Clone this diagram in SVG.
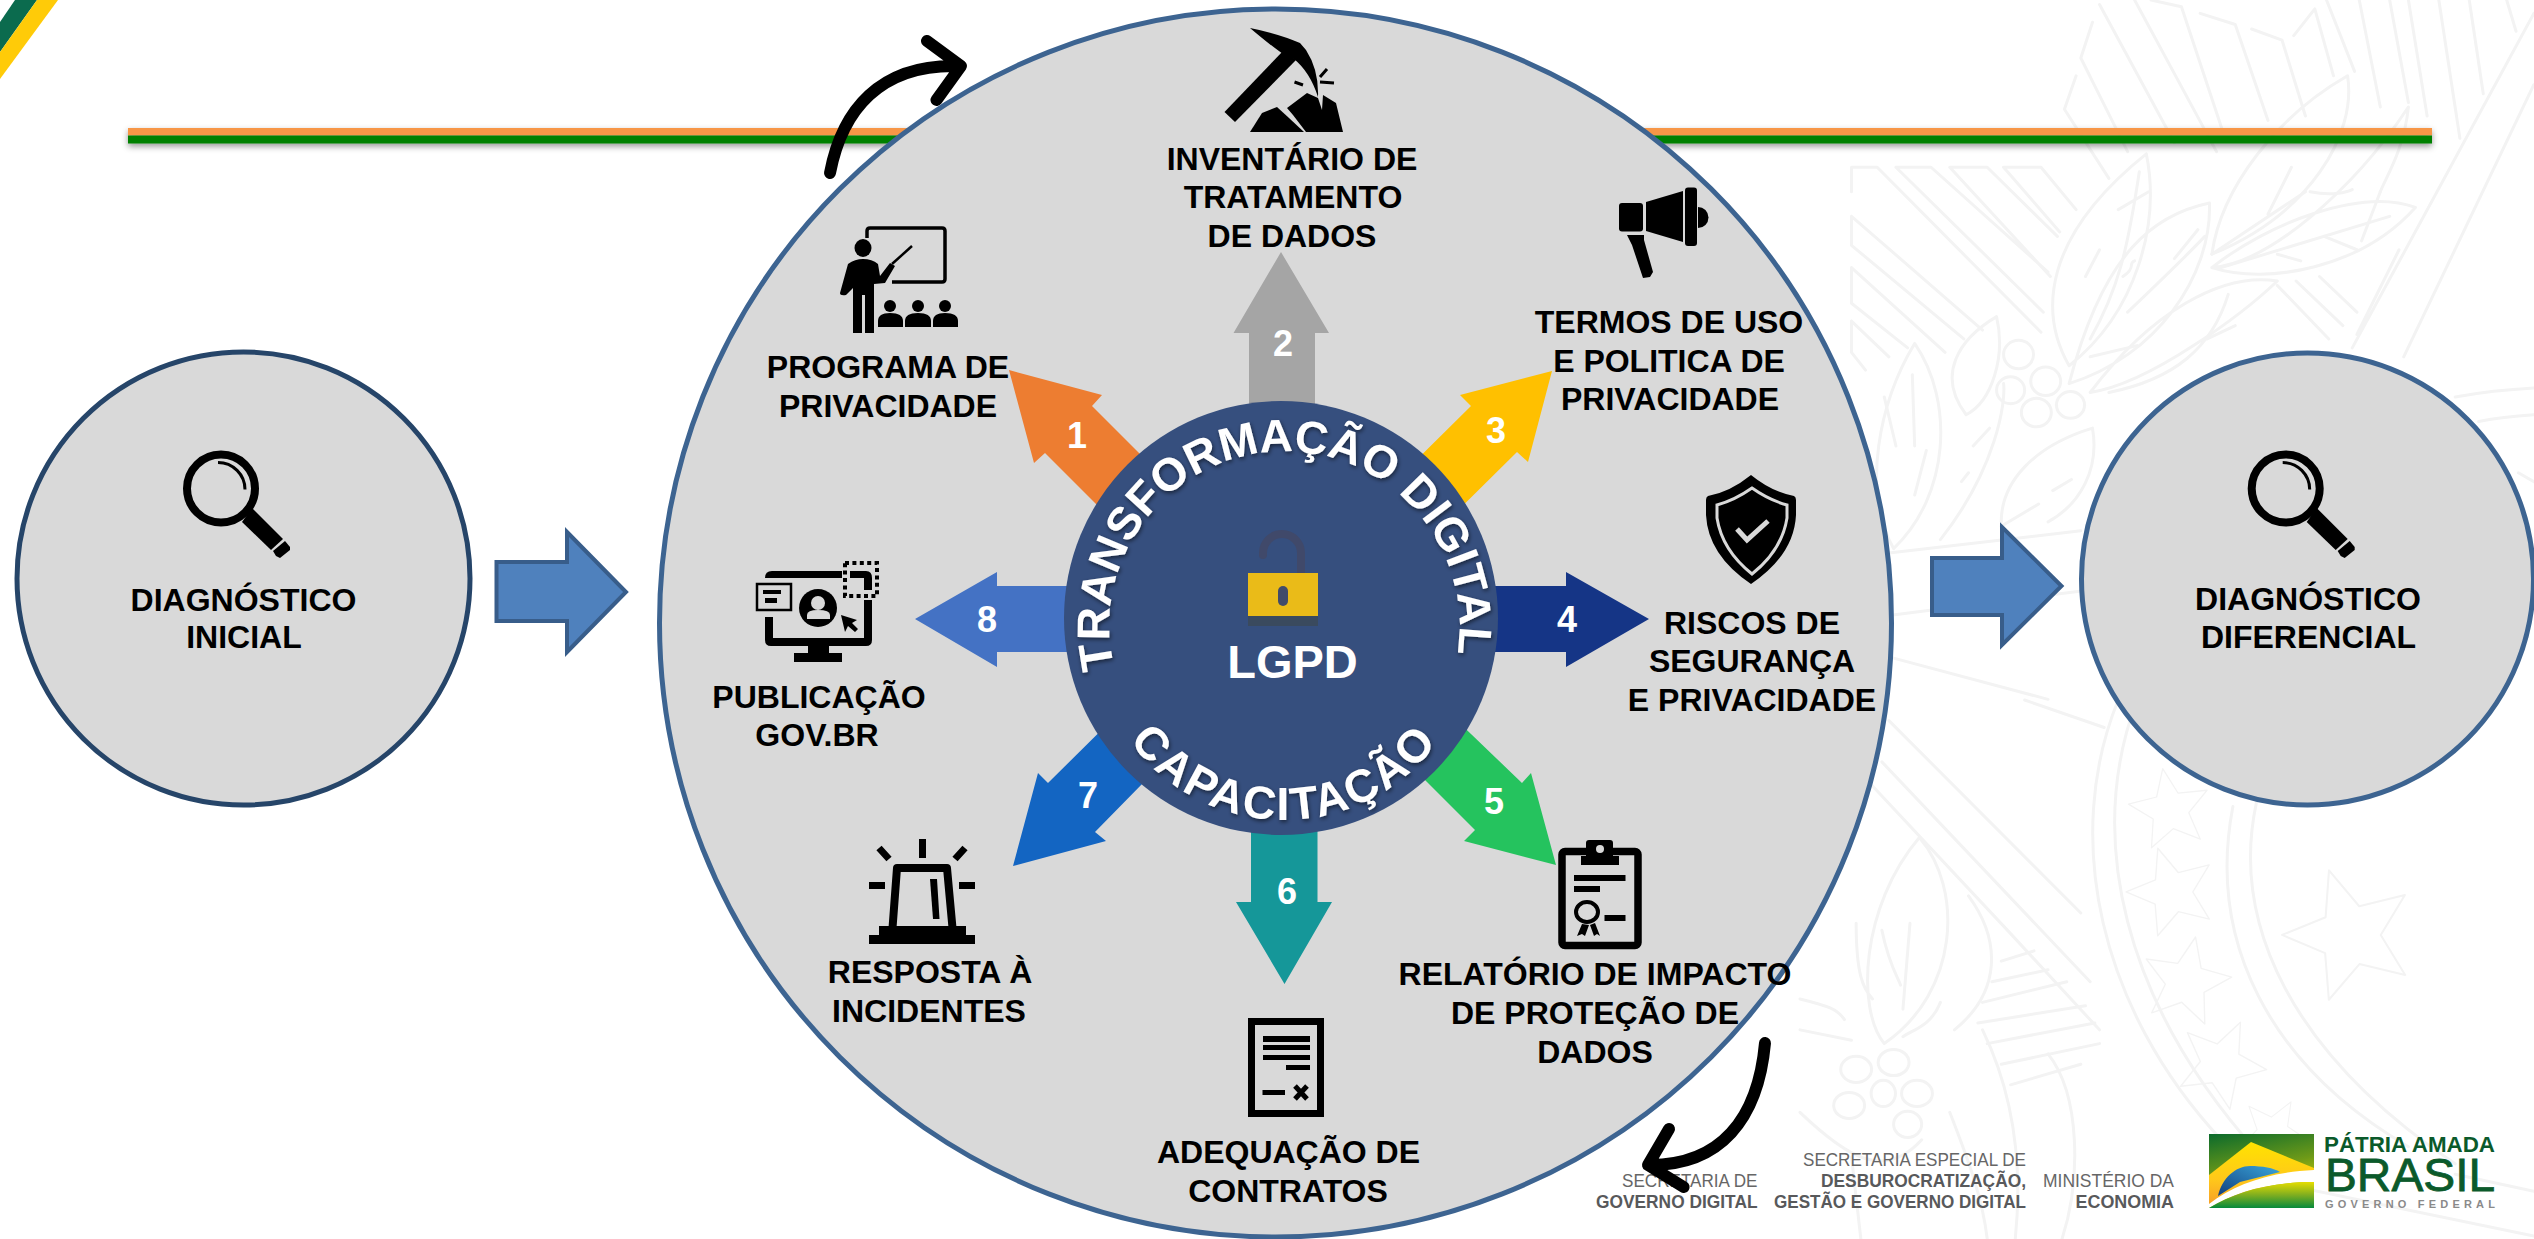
<svg xmlns="http://www.w3.org/2000/svg" width="2534" height="1239" viewBox="0 0 2534 1239">
<style>
text{font-family:"Liberation Sans",Arial,sans-serif}
.l{font-size:32px;font-weight:700;fill:#000;text-anchor:middle}
.n{font-size:36px;font-weight:700;fill:#fff;text-anchor:middle}
.c{font-size:46px;font-weight:700;fill:#fff}
.p{fill:none;stroke:#f3f3f3;stroke-width:3;stroke-linecap:round;stroke-linejoin:round;vector-effect:non-scaling-stroke}
.s{font-size:18px;fill:#666;text-anchor:end}
.b{font-size:18px;font-weight:700;fill:#58595b;text-anchor:end}
.big{fill:#d9d9d9;stroke-width:5}
.k{fill:#000}
.w{fill:none;stroke:#000}
.gb{fill:#d9d9d9}
.curve{fill:none;stroke:#000;stroke-width:12;stroke-linecap:round;stroke-linejoin:round}
.step{fill:#4f81bd;stroke:#385d8a;stroke-width:4}
</style>
<defs>
<filter id="ls" x="-5%" y="-100%" width="110%" height="400%"><feDropShadow dx="0" dy="3" stdDeviation="3" flood-color="#000" flood-opacity=".4"/></filter>
<filter id="ts" x="-10%" y="-10%" width="120%" height="120%"><feDropShadow dx="1" dy="2" stdDeviation="2" flood-color="#000" flood-opacity=".55"/></filter>
<path id="arcTop" d="M1114.5,668 A175,175 0 1 1 1454.5,668"/>
<path id="arcBot" d="M1094,630 A190,190 0 0 0 1474,630"/>
<path id="star" d="M0,-100 26,-36 95,-31 43,14 59,81 0,45 -59,81 -43,14 -95,-31 -26,-36Z"/>
<linearGradient id="lg1" x1="0" y1="0" x2="0.3" y2="1"><stop offset="0" stop-color="#0b6a2c"/><stop offset=".55" stop-color="#6e9a18"/><stop offset="1" stop-color="#dfd600"/></linearGradient>
<linearGradient id="lg2" x1="0" y1="0" x2="0" y2="1"><stop offset="0" stop-color="#ffe300"/><stop offset=".6" stop-color="#ffc81a"/><stop offset="1" stop-color="#f7a028"/></linearGradient>
<linearGradient id="lg3" x1="1" y1="0" x2="0" y2="1"><stop offset="0" stop-color="#3aa6dc"/><stop offset="1" stop-color="#123f7d"/></linearGradient>
<linearGradient id="lg4" x1="0" y1="0" x2="0" y2="1"><stop offset="0" stop-color="#e6dd00"/><stop offset=".5" stop-color="#7fae20"/><stop offset="1" stop-color="#078a3c"/></linearGradient>
<g id="mag">
<circle cx="221" cy="488.5" r="34" fill="none" stroke="#000" stroke-width="8"/>
<path d="M218,462.5 A27,27 0 0 1 245,489.5" fill="none" stroke="#000" stroke-width="3"/>
<path d="M252,508 L242,522 271,550 283,539Z"/>
<path d="M285,541 290,547 290,550 280,558 276,556 273,551Z"/>
</g>
</defs>

<rect width="2534" height="1239" fill="#fff"/>
<g id="background-pattern">
<g transform="translate(1800,0) scale(.468,.446)">
<path class="p" d="M110,430 V375 H165 L515,745 M205,375 H280 L530,610 M205,375 L520,700 M320,375 H400 L550,530 M320,375 L535,620 M435,375 H515 L590,470 M435,375 L555,520 M110,485 L390,740 M110,485 V550 L350,760 M110,600 L310,790 M110,600 V680 L230,780 M110,720 L190,800 M110,720 V790 L140,830"/>
<path class="p" d="M625,50 L600,130 700,340 M590,170 L565,245 660,400 M640,10 L800,320 M715,0 L890,340 M750,0 L815,15 905,300 M855,30 L930,55 1000,270 M965,65 L1030,90 1080,260 M1055,80 L1100,20 1140,170 M1125,0 L1185,160 M1195,0 L1240,240 M1260,0 L1300,230 M1300,0 L1340,260 M1365,0 L1410,310 M1430,0 L1460,210 M1510,0 L1530,70"/>
<path class="p" d="M1568,30 L1180,780 M1568,190 L1290,800 M1240,430 L1200,540 M1280,560 L1190,750 M1020,640 L1130,760 M1060,630 L1160,730 M1110,620 L1190,700"/>
<path class="p" d="M575,820 C510,700 520,530 740,345 C770,500 720,700 575,820 M575,860 C650,560 760,480 875,455 C880,620 760,800 575,860 M880,570 C900,420 1020,260 1170,170 C1190,300 1090,480 880,570 M880,600 C1000,590 1180,430 1300,240 C1290,340 1250,400 1240,430 M880,600 C1000,640 1200,600 1315,465 C1200,420 1000,500 880,600 M620,880 C750,860 950,700 1020,630 C900,610 750,700 620,880 M355,930 C290,840 340,760 420,710 C440,800 410,900 355,930 M200,1230 C130,1100 170,900 245,770 C330,900 320,1110 200,1230 M300,1210 C420,1050 440,900 435,860 M430,1170 C430,1080 500,1000 625,960 C640,1050 600,1130 530,1170"/>
<path class="p" d="M620,760 C680,650 700,560 725,385 M680,470 L745,430 M610,620 L640,560 M700,700 C760,640 820,580 865,530 M690,620 C720,600 700,590 715,585 M800,580 L850,515 M880,570 L1080,430 M1000,480 L1050,375 M1090,430 C1140,440 1170,430 1180,425 M900,600 L1260,485 M1120,530 L1190,560 M1020,570 L1070,585 M620,800 L720,775 M660,880 C800,850 880,780 915,660 M870,760 L930,730 M245,1000 L240,840 M205,1000 L180,890 M245,1110 L270,1010 M370,1000 L405,960 M360,1060 L345,1080 M540,1100 L580,1075 M430,1180 L510,1130"/>
<circle class="p" cx="467" cy="795" r="32"/><circle class="p" cx="525" cy="855" r="32"/><circle class="p" cx="450" cy="875" r="30"/><circle class="p" cx="505" cy="925" r="32"/><circle class="p" cx="578" cy="908" r="30"/>
<path class="p" d="M190,1240 L600,1190 M190,1380 L640,1320 M180,1470 L530,1568 M1400,890 Q1480,875 1568,870 M1450,945 Q1500,935 1568,930 M1535,1060 L1568,1080"/>
</g>
<g transform="translate(1800,700) scale(.468,.3436)">
<path class="p" d="M190,60 L600,620 M175,180 L620,820 M155,250 L450,680 640,960 M480,0 L650,80 M680,0 C560,400 640,900 900,1280 M720,0 C610,400 690,880 980,1320 M925,310 C870,700 1000,1060 1300,1300 M975,300 C920,650 1050,1030 1400,1350 M1000,1400 L1568,1560 M1400,1380 L1568,1430"/>
<path class="p" d="M255,400 C130,600 120,900 180,1000 C340,850 350,550 255,400 M360,570 C430,700 430,850 330,960 M390,960 C440,1100 480,1300 460,1568 M530,1030 C600,1150 600,1400 560,1568 M235,650 L220,900 M175,670 C190,770 210,810 215,830 M300,880 C280,950 240,960 220,980 M120,650 C120,800 135,840 155,870 M0,870 C60,890 80,900 95,930 M0,960 L110,990"/>
<path class="p" d="M430,760 L500,730 M410,820 L530,785 M390,880 L570,820 M380,940 L610,890 M400,1000 L630,940 M430,1060 L640,1000 M450,1120 L600,1060"/>
<ellipse class="p" cx="120" cy="1075" rx="33" ry="38"/><ellipse class="p" cx="200" cy="1055" rx="33" ry="38"/><ellipse class="p" cx="178" cy="1145" rx="26" ry="38"/><ellipse class="p" cx="250" cy="1145" rx="33" ry="38"/><ellipse class="p" cx="105" cy="1180" rx="33" ry="38"/><ellipse class="p" cx="230" cy="1235" rx="30" ry="38"/>
<path class="p" d="M0,1200 C100,1330 180,1400 260,1280 M320,1200 C360,1340 390,1450 400,1568 M110,1330 L130,1568"/>
</g>
<use class="p" href="#star" transform="translate(2350,935) rotate(-18) scale(.68)"/>
<use class="p" href="#star" transform="translate(2172,892) rotate(-18) scale(.46)"/>
<use class="p" href="#star" transform="translate(2186,982) rotate(12) scale(.46)"/>
<use class="p" href="#star" transform="translate(2221,1064) rotate(25) scale(.46)"/>
<use class="p" href="#star" transform="translate(2170,810) rotate(-10) scale(.42)"/>
<use class="p" href="#star" transform="translate(2273,1133) rotate(30) scale(.36)"/>
</g>

<g id="corner-flag">
<polygon points="15,0 37,0 0,52 0,22" fill="#0b6b4e"/>
<polygon points="37,0 58,0 0,79 0,52" fill="#ffcb08"/>
</g>
<g id="header-rule" filter="url(#ls)">
<rect x="128" y="128" width="2304" height="7.5" fill="#f79646"/>
<rect x="128" y="135.5" width="2304" height="8" fill="#008000"/>
</g>

<g id="node-diagnostico-inicial">
<circle class="big" cx="243.5" cy="578.5" r="226.5" stroke="#264569"/>
<use href="#mag"/>
<text class="l" x="243.5" y="611">DIAGNÓSTICO</text>
<text class="l" x="244" y="648">INICIAL</text>
</g>

<g id="node-transformacao">
<ellipse class="big" cx="1275.5" cy="623" rx="616" ry="614" stroke="#3d6491"/>
</g>

<g id="connectors">
<polygon id="c-in" class="step" points="496.5,562 567,562 567,532 626,592 567,652 567,621 496.5,621"/>
<polygon id="c-out" class="step" points="1932,558 2002,558 2002,527 2061.5,586 2002,645 2002,615 1932,615"/>
<g id="c1"><polygon fill="#ed7d31" points="1009,370 1102,395 1092,406 1163,477 1116,524 1045,453 1034,463"/><text class="n" x="1077" y="448">1</text></g>
<g id="c2"><polygon fill="#a5a5a5" points="1281,252 1329,333 1315,333 1315,440 1249,440 1249,333 1233.5,333"/><text class="n" x="1283" y="356">2</text></g>
<g id="c3"><polygon fill="#ffc000" points="1552,371 1528,462 1517,452 1420,548 1376,500 1471,406 1460,395"/><text class="n" x="1496" y="443">3</text></g>
<g id="c4"><polygon fill="#153586" points="1649,619 1566,667 1566,652 1450,652 1450,586 1566,586 1566,572"/><text class="n" x="1567" y="632">4</text></g>
<g id="c5"><polygon fill="#25c35e" points="1556,865 1464,841 1475,830 1380,735 1420,685 1522,783 1531,773"/><text class="n" x="1494" y="814">5</text></g>
<g id="c6"><polygon fill="#159799" points="1284.5,984 1236,902 1251,902 1251,790 1317.5,790 1317.5,902 1332,902"/><text class="n" x="1287" y="904">6</text></g>
<g id="c7"><polygon fill="#1365c2" points="1013,866 1106,841 1095,832 1194,731 1150,682 1048,783 1038,773"/><text class="n" x="1088" y="808">7</text></g>
<g id="c8"><polygon fill="#4472c4" points="915,619 997,572 997,586 1110,586 1110,652 997,652 997,667"/><text class="n" x="987" y="632">8</text></g>
<path id="c-loop-top" class="curve" d="M830,173 C842,110 880,64 958,66 M927,41 L961,66 936.5,100"/>
</g>

<g id="node-center">
<circle cx="1281" cy="618" r="217" fill="#364f7e"/>
<g id="lock">
<path d="M1301,575 V553 A19,19 0 0 0 1263,553 V555" fill="none" stroke="#40496a" stroke-width="8" stroke-linecap="round"/>
<rect x="1248" y="573" width="70" height="43" fill="#eabb18"/>
<rect x="1248" y="616" width="70" height="10" fill="#3a4a5e"/>
<rect x="1278" y="586" width="10" height="20" rx="5" fill="#414b6a"/>
</g>
<text x="1292.5" y="678" font-size="47" font-weight="700" fill="#fff" text-anchor="middle">LGPD</text>
<text class="c" filter="url(#ts)" letter-spacing="-.2"><textPath href="#arcTop">TRANSFORMAÇÃO DIGITAL</textPath></text>
<text class="c" filter="url(#ts)" text-anchor="middle" letter-spacing="2.5"><textPath href="#arcBot" startOffset="50%">CAPACITAÇÃO</textPath></text>
</g>

<g id="node-1">
<path class="w" stroke-width="3.5" d="M867,238 V231 Q867,228 870,228 H942 Q945,228 945,231 V279 Q945,282 942,282 H892"/>
<ellipse class="k" cx="863" cy="248" rx="8.5" ry="9"/>
<path class="k" d="M848,264 Q855,259 863,259 Q872,259 878,264 L880,276 890,263 895,266 885,283 874,284 V333 H865 V295 H862 V333 H853 V288 L846,295 Q840,296 840,293 Z"/>
<path class="w" stroke-width="2.5" d="M892,264 L912,246"/>
<circle class="k" cx="890" cy="306" r="6"/><circle class="k" cx="918" cy="306" r="6"/><circle class="k" cx="945" cy="306" r="6"/>
<path class="k" d="M878,327 V321 Q878,313 890,313 Q903,313 903,321 V327Z M905,327 V321 Q905,313 918,313 Q931,313 931,321 V327Z M933,327 V321 Q933,313 945,313 Q958,313 958,321 V327Z"/>
<text class="l" x="888" y="378">PROGRAMA DE</text>
<text class="l" x="888" y="417">PRIVACIDADE</text>
</g>

<g id="node-2">
<path class="k" d="M1250,28 Q1280,34 1300,43 L1306,50 Q1319,70 1318,97 Q1310,72 1294,59 L1283,54 Q1270,45 1250,28Z"/>
<polygon class="k" points="1224.5,112 1235,122 1296,60 1284,50"/>
<polygon class="k" points="1250,132 1262,113 1277,107 1289,118 1304,132"/>
<polygon class="k" points="1287,108 1307,93 1318,98 1322,110 1323,95 1336,103 1343,132 1306,132 1293,115"/>
<path class="w" stroke-width="3" d="M1320,77 L1327,69 M1320,82 L1334,83 M1294.5,82 L1303,85"/>
<text class="l" x="1292" y="170">INVENTÁRIO DE</text>
<text class="l" x="1293" y="208">TRATAMENTO</text>
<text class="l" x="1292" y="247">DE DADOS</text>
</g>

<g id="node-3">
<rect class="k" x="1619" y="203" width="24" height="28.5" rx="3"/>
<polygon class="k" points="1646,202 1683,191 1683,242 1646,231"/>
<rect class="k" x="1685" y="187.5" width="12" height="58.5" rx="3"/>
<path class="k" d="M1698,207 A10.5,10.5 0 0 1 1698,228Z"/>
<polygon class="k" points="1627,235 1644,235 1644,240 1653,272 1650,277 1643,278 1632,245"/>
<text class="l" x="1669" y="333">TERMOS DE USO</text>
<text class="l" x="1669" y="372">E POLITICA DE</text>
<text class="l" x="1670" y="410">PRIVACIDADE</text>
</g>

<g id="node-4">
<path class="k" d="M1751,475 Q1730,492 1708,496 Q1706,497 1706,500 V515 Q1708,555 1751,584 Q1794,555 1796,515 V500 Q1796,497 1794,496 Q1772,492 1751,475Z"/>
<path d="M1752,488 Q1735,500 1717,505 V518 Q1722,550 1752,574 Q1782,550 1787,518 V505 Q1769,500 1752,488Z" fill="none" stroke="#d9d9d9" stroke-width="3"/>
<path d="M1737,529 L1747,540 1768,521" fill="none" stroke="#d9d9d9" stroke-width="5"/>
<text class="l" x="1752" y="634">RISCOS DE</text>
<text class="l" x="1752" y="672">SEGURANÇA</text>
<text class="l" x="1752" y="711">E PRIVACIDADE</text>
</g>

<g id="node-5">
<rect class="w" x="1562" y="851.5" width="76" height="94" rx="3" stroke-width="7.5"/>
<path class="k" d="M1581,865 V856 H1586 V843 Q1586,840 1589,840 H1610 Q1613,840 1613,843 V856 H1619 V865Z"/>
<circle class="gb" cx="1600" cy="849" r="4"/>
<rect class="k" x="1574" y="875" width="51.5" height="6"/>
<rect class="k" x="1574" y="886" width="26" height="6"/>
<ellipse class="w" cx="1587" cy="912" rx="11" ry="10" stroke-width="4"/>
<rect class="k" x="1604.5" y="915" width="21" height="6"/>
<polygon class="k" points="1582,924 1577,936 1582,934 1585,936 1589,925"/>
<polygon class="k" points="1590,925 1594,936 1597,934 1600,936 1595,923"/>
<text class="l" x="1595" y="985">RELATÓRIO DE IMPACTO</text>
<text class="l" x="1595" y="1024">DE PROTEÇÃO DE</text>
<text class="l" x="1595" y="1063">DADOS</text>
</g>

<g id="node-6">
<rect class="w" x="1251.5" y="1021.5" width="69" height="92" stroke-width="7"/>
<rect class="k" x="1263" y="1036" width="47" height="6"/><rect class="k" x="1263" y="1045" width="47" height="5"/><rect class="k" x="1263" y="1055" width="47" height="5"/><rect class="k" x="1286" y="1065" width="24" height="5"/>
<rect class="k" x="1262.5" y="1090" width="22.5" height="5"/>
<path class="w" stroke-width="5" d="M1295,1086 L1307,1099 M1307,1086 L1295,1099"/>
<text class="l" x="1288.5" y="1163">ADEQUAÇÃO DE</text>
<text class="l" x="1288" y="1202">CONTRATOS</text>
</g>

<g id="node-7">
<rect class="k" x="919" y="839" width="7" height="19"/>
<rect class="k" x="869" y="882" width="16" height="7"/><rect class="k" x="959" y="882" width="16" height="7"/>
<path class="w" stroke-width="7" d="M879,848 L889,859 M965,848 L955,859"/>
<path class="w" stroke-width="8" stroke-linejoin="round" d="M892.5,928 L897,868 H947 L952.5,928"/>
<polygon class="k" points="930,879 937,879 939.5,919 933,919"/>
<rect class="k" x="879" y="926" width="87" height="9"/>
<rect class="k" x="869" y="935" width="106" height="9"/>
<text class="l" x="930" y="983">RESPOSTA À</text>
<text class="l" x="929" y="1022">INCIDENTES</text>
</g>

<g id="node-8">
<path class="k" d="M765,578 Q765,571 772,571 H842 V578 H765Z M850,571 H866 Q872,571 872,578 V590 H864 V578 H850Z M864,600 H872 V640 Q872,646 866,646 H771 Q765,646 765,640 V617 H773 V638 H864Z"/>
<rect class="k" x="808" y="646" width="21" height="7"/><rect class="k" x="794" y="653" width="48" height="9"/>
<rect class="w" x="757" y="584" width="34" height="26" stroke-width="2.5"/>
<rect class="k" x="763" y="590" width="18" height="4"/><rect class="k" x="765" y="598" width="12" height="5"/>
<circle class="k" cx="818" cy="608" r="19"/>
<circle class="gb" cx="818" cy="603" r="7"/>
<path class="gb" d="M807,619 V615 Q807,610 818,610 Q830,610 830,615 V619Z"/>
<polygon class="k" points="841,615 857,620 852,623 858,629 855,632 848,626 845,632"/>
<rect class="w" x="845" y="563" width="32" height="33" stroke-width="4" stroke-dasharray="4 3.4"/>
<text class="l" x="819" y="708">PUBLICAÇÃO</text>
<text class="l" x="817" y="746">GOV.BR</text>
</g>

<g id="node-diagnostico-diferencial">
<circle class="big" cx="2307.5" cy="579" r="226" stroke="#3d6491"/>
<use href="#mag" x="2064.7"/>
<text class="l" x="2308" y="610">DIAGNÓSTICO</text>
<text class="l" x="2308.5" y="648">DIFERENCIAL</text>
</g>

<g id="footer">
<text class="s" x="1757.5" y="1187" textLength="135.5" lengthAdjust="spacingAndGlyphs">SECRETARIA DE</text>
<text class="b" x="1757.5" y="1208" textLength="161.5" lengthAdjust="spacingAndGlyphs">GOVERNO DIGITAL</text>
<text class="s" x="2026" y="1166" textLength="223" lengthAdjust="spacingAndGlyphs">SECRETARIA ESPECIAL DE</text>
<text class="b" x="2026" y="1187" textLength="205" lengthAdjust="spacingAndGlyphs">DESBUROCRATIZAÇÃO,</text>
<text class="b" x="2026" y="1208" textLength="252" lengthAdjust="spacingAndGlyphs">GESTÃO E GOVERNO DIGITAL</text>
<text class="s" x="2174" y="1187" textLength="131" lengthAdjust="spacingAndGlyphs">MINISTÉRIO DA</text>
<text class="b" x="2174" y="1208" textLength="98.5" lengthAdjust="spacingAndGlyphs">ECONOMIA</text>
<g id="logo">
<rect x="2209" y="1134" width="105" height="74" fill="url(#lg1)"/>
<polygon points="2251,1142 2314,1168 2314,1172 2209,1204 2209,1175" fill="url(#lg2)"/>
<path d="M2218,1196 C2222,1178 2236,1166 2250,1166 C2262,1166 2274,1168 2280,1172 L2240,1182Z" fill="url(#lg3)"/>
<path d="M2209,1204 C2235,1184 2270,1172 2314,1170 V1182 C2270,1182 2235,1192 2209,1208Z" fill="#fff"/>
<path d="M2209,1208 C2235,1192 2270,1182 2314,1182 V1208Z" fill="url(#lg4)"/>
<text x="2324" y="1152" font-size="22" font-weight="700" fill="#0b5a2b" textLength="171" lengthAdjust="spacingAndGlyphs">PÁTRIA AMADA</text>
<text x="2325" y="1191" font-size="46" fill="#0b5a2b" stroke="#0b5a2b" stroke-width=".8" textLength="170" lengthAdjust="spacingAndGlyphs">BRASIL</text>
<text x="2325" y="1208" font-size="11" font-weight="700" fill="#8a8a8a" textLength="170" lengthAdjust="spacing">GOVERNO FEDERAL</text>
</g>
</g>

<g id="connector-loop-bottom">
<path class="curve" d="M1765,1043 C1758,1120 1720,1165 1650,1165 M1669,1129 L1648,1165 1683.6,1187"/>
</g>
</svg>
